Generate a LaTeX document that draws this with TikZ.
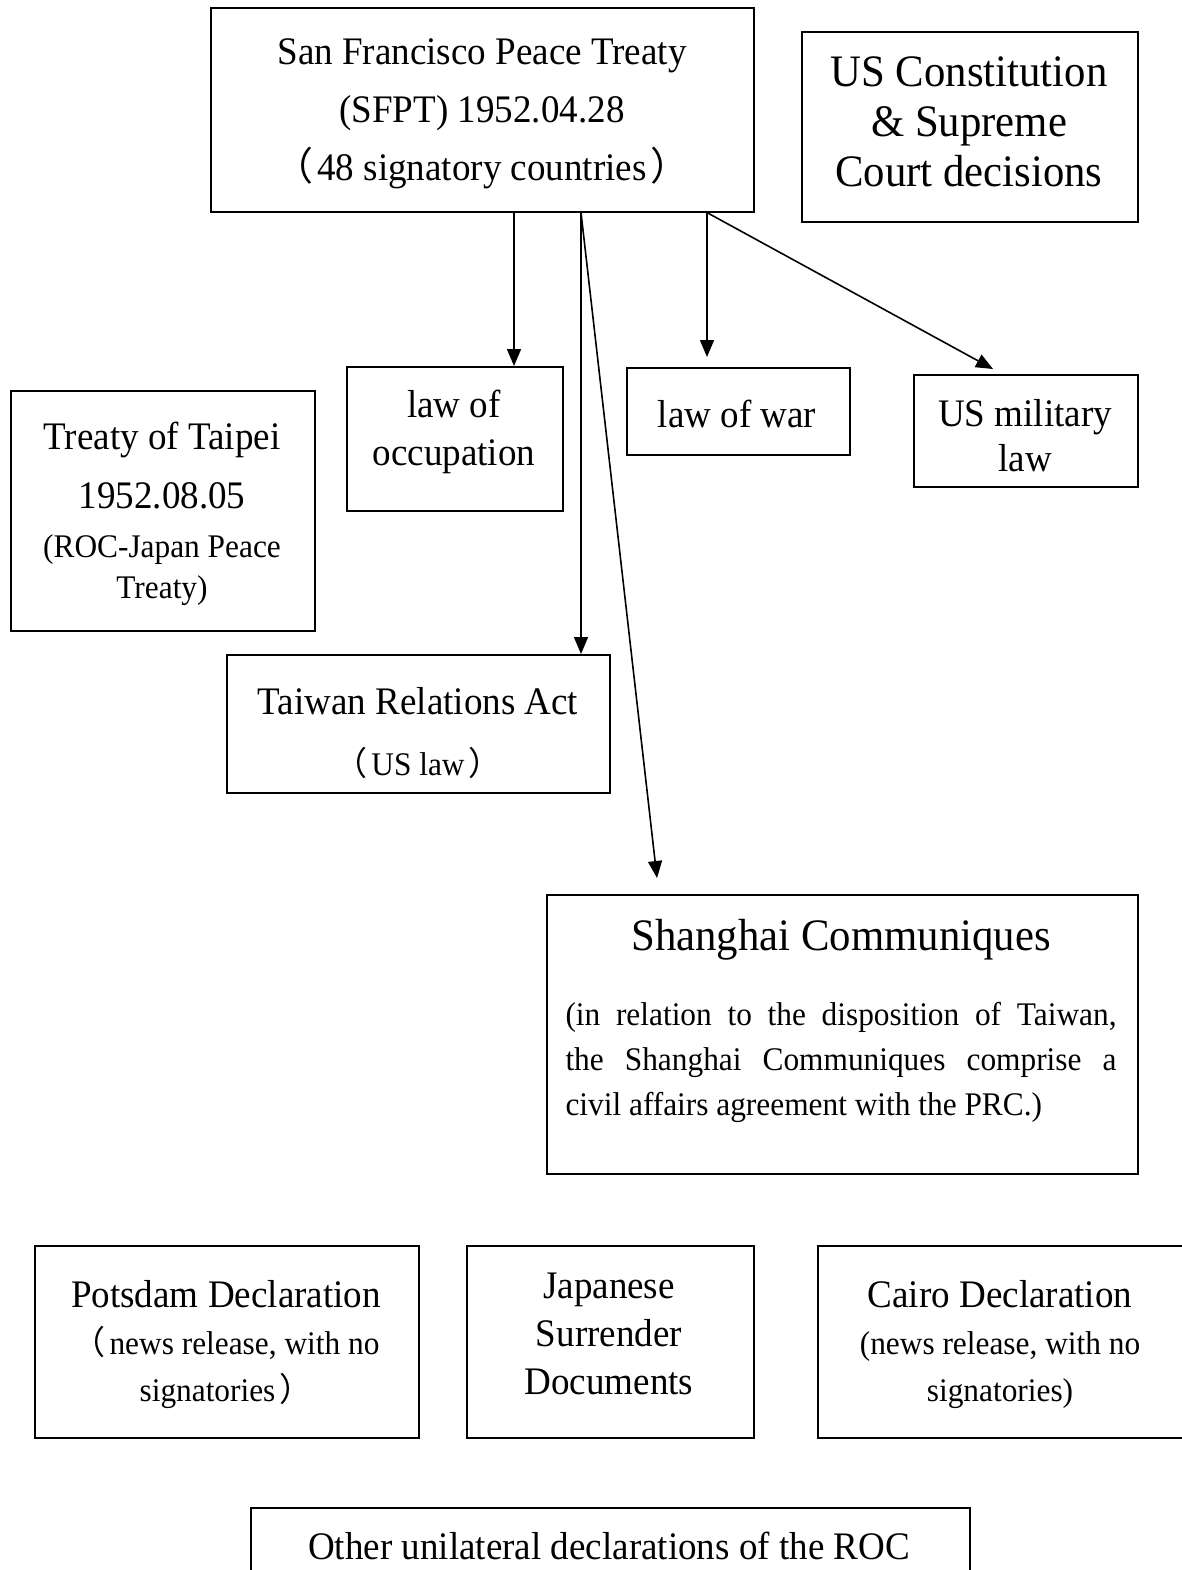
\documentclass[tikz,border=0pt]{standalone}
\usepackage{fontspec}
\setmainfont[FakeStretch=0.95]{Liberation Serif}
\newfontfamily\cjk{Noto Sans CJK SC}
\usetikzlibrary{arrows.meta}
\newcommand\lp{{\cjk （}\hspace{4pt}}
\newcommand\rp{\hspace{4pt}{\cjk ）}}
\begin{document}
\begin{tikzpicture}[x=1pt,y=-1pt,
  box/.style={draw, line width=1.6pt, inner sep=0pt, anchor=north west},
  txt/.style={align=center, inner sep=0pt, anchor=center},
  arr/.style={-{Triangle[length=17pt,width=14pt]}, line width=1.6pt},
  f39/.style={font=\fontsize{39}{#1}\selectfont},
  f45/.style={font=\fontsize{45}{#1}\selectfont},
  f33/.style={font=\fontsize{33}{#1}\selectfont}]
\useasboundingbox (0,0) rectangle (1182,1570);
\fill[white] (0,0) rectangle (1182,1570);

% boxes
\node[box, minimum width=543pt, minimum height=204pt] (sfpt) at (210,7) {};
\node[box, minimum width=336pt, minimum height=190pt] (usc) at (801,31) {};
\node[box, minimum width=216pt, minimum height=144pt] (occ) at (346,366) {};
\node[box, minimum width=223pt, minimum height=87pt] (war) at (626,367) {};
\node[box, minimum width=224pt, minimum height=112pt] (mil) at (913,374) {};
\node[box, minimum width=304pt, minimum height=240pt] (taipei) at (10,390) {};
\node[box, minimum width=383pt, minimum height=138pt] (tra) at (226,654) {};
\node[box, minimum width=591pt, minimum height=279pt] (shanghai) at (546,894) {};
\node[box, minimum width=384pt, minimum height=192pt] (potsdam) at (34,1245) {};
\node[box, minimum width=287pt, minimum height=192pt] (jsd) at (466,1245) {};
\node[box, minimum width=380pt, minimum height=192pt] (cairo) at (817,1245) {};
\node[box, minimum width=719pt, minimum height=80pt] (other) at (250,1507) {};

% texts
\node[txt, f39=58] (sfptT) at (482,114) {San Francisco Peace Treaty\\(SFPT) 1952.04.28\\\lp 48 signatory countries\rp};
\node[txt, f45=50] (uscT) at (969,122) {US Constitution\\\& Supreme\\Court decisions};
\node[txt, f39=48] (occT) at (454,432) {law of\\occupation};
\node[txt, f39=48] (warT) at (737,414) {law of war};
\node[txt, f39=45] (milT) at (1025,436) {US military\\law};
\node[txt, f39=59] (taipeiT) at (162,514) {Treaty of Taipei\\1952.08.05\\[-10pt]{\fontsize{33}{41}\selectfont (ROC-Japan Peace}\\[-18pt]{\fontsize{33}{41}\selectfont Treaty)}};
\node[txt, f39=61] (traT) at (418,733) {Taiwan Relations Act\\{\fontsize{33}{41}\selectfont\lp US law\rp}};
\node[txt, f45=50] (shT) at (841,940) {Shanghai Communiques};
\node[txt, f33=45, text width=551pt, align=justify] (shB) at (841,1062) {(in relation to the disposition of Taiwan,\linebreak the Shanghai Communiques comprise a\linebreak civil affairs agreement with the PRC.)};
\node[txt, f39=51] (potT) at (226,1345) {Potsdam Declaration\\[-4pt]{\fontsize{33}{41}\selectfont \lp news release, with no}\\[-4pt]{\fontsize{33}{41}\selectfont signatories\rp}};
\node[txt, f39=48] (jsdT) at (609,1334) {Japanese\\Surrender\\Documents};
\node[txt, f39=51] (cairoT) at (1000,1345) {Cairo Declaration\\[-4pt]{\fontsize{33}{41}\selectfont (news release, with no}\\[-4pt]{\fontsize{33}{41}\selectfont signatories)}};
\node[txt, f39=48] (otherT) at (609,1546) {Other unilateral declarations of the ROC};

% arrows
\draw[arr] ([xshift=304pt]sfpt.south west) -- ([xshift=168pt]occ.north west);
\draw[arr] ([xshift=371pt]sfpt.south west) -- ([xshift=355pt]tra.north west);
\draw[arr] ([xshift=371pt]sfpt.south west) -- ([xshift=111pt,yshift=16pt]shanghai.north west);
\draw[arr] ([xshift=497pt]sfpt.south west) -- ([xshift=81pt,yshift=10pt]war.north west);
\draw[arr] ([xshift=497pt]sfpt.south west) -- ([xshift=80pt,yshift=5pt]mil.north west);
\end{tikzpicture}
\end{document}
